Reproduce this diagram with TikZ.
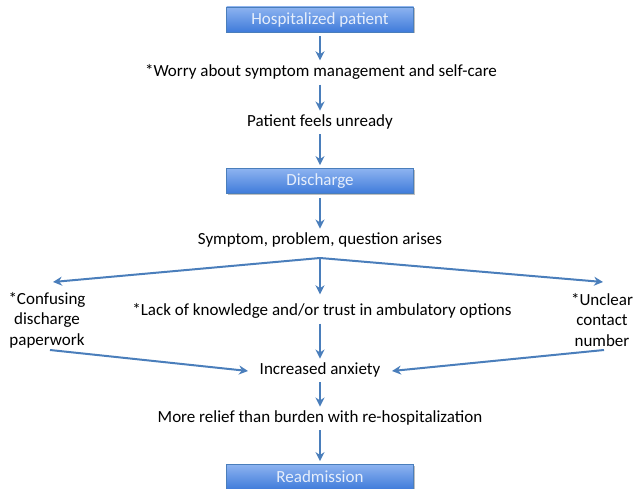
\documentclass[tikz,border=0pt]{standalone}
\usepackage{fontspec}
\setmainfont{Carlito}
\usetikzlibrary{arrows.meta,shadows}
\definecolor{arr}{HTML}{4A7EBB}
\definecolor{boxtop}{HTML}{8DB3F0}
\definecolor{boxbot}{HTML}{3F7BDA}
\definecolor{boxline}{HTML}{4A7EBB}
\definecolor{boxtext}{HTML}{E6EEFB}
\tikzset{
  stepbox/.style={draw=boxline, line width=0.8pt, top color=boxtop, bottom color=boxbot,
    minimum width=187pt, minimum height=25pt, inner sep=0pt,
    text=boxtext, font=\fontsize{17}{20}\selectfont,
    drop shadow={shadow xshift=1pt, shadow yshift=-1.5pt, fill=black, opacity=0.25}},
  lbl/.style={font=\fontsize{17}{20.5}\selectfont, text=black, inner sep=1pt, align=center},
  flow/.style={draw=arr, line width=2pt, -{Stealth[length=9pt,width=9pt]},
    shorten <=4pt, shorten >=3pt},
}
\begin{document}
\begin{tikzpicture}[x=1pt,y=-1pt]
\useasboundingbox (0,0) rectangle (636,489);
\node[stepbox] (hp) at (320,19.5) {Hospitalized patient};
\node[lbl] (worry) at (321,72) {*Worry about symptom management and self-care};
\node[lbl] (unready) at (320,122) {Patient feels unready};
\node[stepbox] (dis) at (320,181) {Discharge};
\node[lbl] (sym) at (320,240) {Symptom, problem, question arises};
\coordinate (split) at (320,258);
\node[lbl] (conf) at (47,320) {*Confusing\\discharge\\paperwork};
\node[lbl] (lack) at (322,311) {*Lack of knowledge and/or trust in ambulatory options};
\node[lbl] (uncl) at (602,320) {*Unclear\\contact\\number};
\node[lbl] (anx) at (320,370) {Increased anxiety};
\node[lbl] (relief) at (320,418) {More relief than burden with re-hospitalization};
\node[stepbox] (re) at (320,477) {Readmission};
\coordinate (cl) at (53,282);
\coordinate (cr) at (603,282);
\coordinate (cls) at (50,350);
\coordinate (crs) at (604,350);
\coordinate (al) at (248,371);
\coordinate (ar) at (392,371);

\draw[flow] (hp.south -| 320,0) -- (worry.north -| 320,0);
\draw[flow] (worry.south -| 320,0) -- (unready.north -| 320,0);
\draw[flow] (unready.south -| 320,0) -- (dis.north);
\draw[flow] (dis.south) -- (sym.north -| 320,0);
\draw[flow, shorten <=0pt, shorten >=8pt] (split) -- (lack.north -| 320,0);
\draw[flow, shorten <=0pt, shorten >=0pt] (split) -- (cl);
\draw[flow, shorten <=0pt, shorten >=0pt] (split) -- (cr);
\draw[flow] (lack.south -| 320,0) -- (anx.north);
\draw[flow, shorten <=0pt, shorten >=0pt] (cls) -- (al);
\draw[flow, shorten <=0pt, shorten >=0pt] (crs) -- (ar);
\draw[flow] (anx.south) -- (relief.north -| 320,0);
\draw[flow] (relief.south -| 320,0) -- (re.north);
\end{tikzpicture}
\end{document}
